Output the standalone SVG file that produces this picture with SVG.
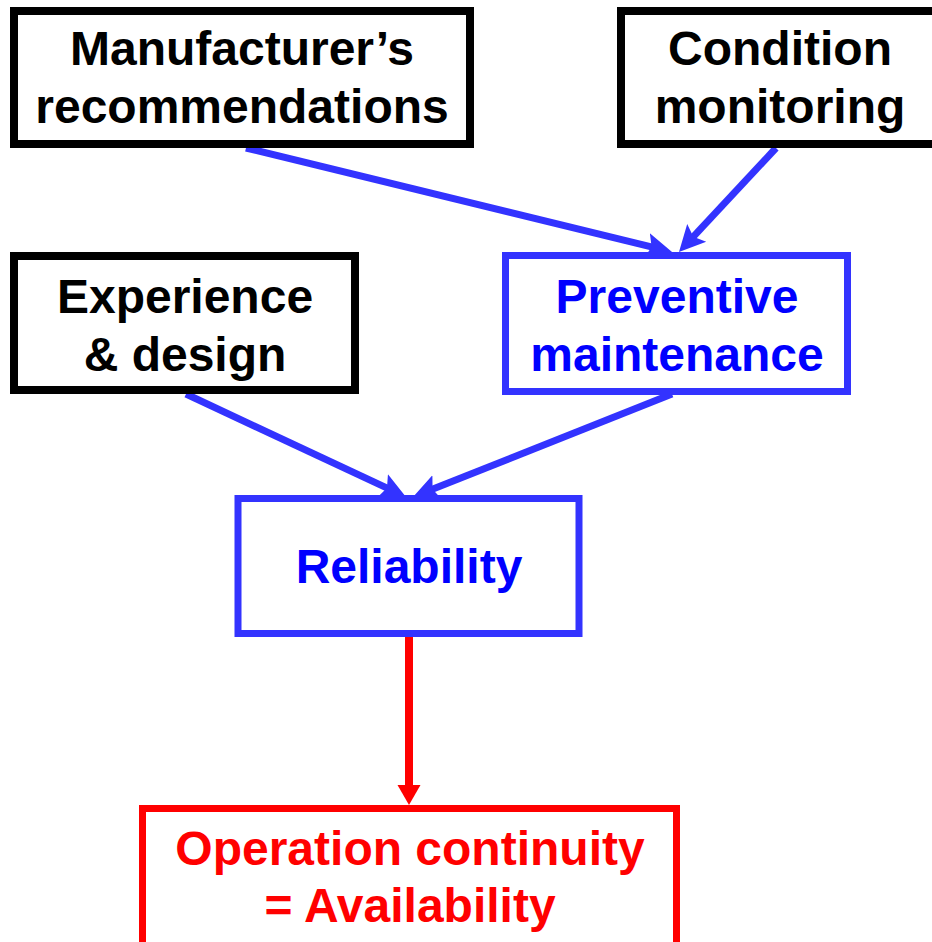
<svg xmlns="http://www.w3.org/2000/svg" width="932" height="942" viewBox="0 0 932 942">
<style>
.box{fill:#ffffff;stroke-width:8}
.k{stroke:#000000}
.b{stroke:#3333ff;stroke-width:7}
.r{stroke:#ff0000;stroke-width:7}
text{font-family:"Liberation Sans",Arial,sans-serif;font-weight:bold;font-size:48px;text-anchor:middle}
.tk{fill:#000000}
.tb{fill:#0000ff}
.tr{fill:#ff0000}
.cb{stroke:#3333ff;stroke-width:7;fill:none}
.cr{stroke:#ff0000;stroke-width:8;fill:none}
</style>
<defs>
<marker id="ab" markerUnits="userSpaceOnUse" markerWidth="28" markerHeight="28" refX="10" refY="13" orient="auto" viewBox="0 0 28 26">
<path d="M0,0 L26,13 L0,26 L5,13 Z" fill="#3333ff"/>
</marker>
<marker id="ar" markerUnits="userSpaceOnUse" markerWidth="22" markerHeight="24" refX="4" refY="11.5" orient="auto" viewBox="0 0 22 23">
<path d="M0,0 L20,11.5 L0,23 Z" fill="#ff0000"/>
</marker>
</defs>
<rect width="932" height="942" fill="#ffffff"/>
<g id="connectors">
<line class="cb" x1="246" y1="148" x2="656.5" y2="248.2" marker-end="url(#ab)"/>
<line class="cb" x1="776" y1="148" x2="689.9" y2="240.3" marker-end="url(#ab)"/>
<line class="cb" x1="186" y1="394" x2="391.5" y2="490.2" marker-end="url(#ab)"/>
<line class="cb" x1="672" y1="394" x2="427.9" y2="491.1" marker-end="url(#ab)"/>
<line class="cr" x1="409" y1="637" x2="409" y2="789" marker-end="url(#ar)"/>
</g>
<g id="manufacturer">
<rect class="box k" x="14" y="11" width="456" height="133"/>
<text class="tk" x="242" y="65">Manufacturer’s</text>
<text class="tk" x="242" y="123">recommendations</text>
</g>
<g id="condition">
<rect class="box k" x="621" y="11" width="330" height="133"/>
<text class="tk" x="780" y="65">Condition</text>
<text class="tk" x="780" y="123">monitoring</text>
</g>
<g id="experience">
<rect class="box k" x="14" y="256" width="341" height="134"/>
<text class="tk" x="185" y="313">Experience</text>
<text class="tk" x="185" y="371">&amp; design</text>
</g>
<g id="preventive">
<rect class="box b" x="505.5" y="255.5" width="342" height="136"/>
<text class="tb" x="677" y="313">Preventive</text>
<text class="tb" x="677" y="371">maintenance</text>
</g>
<g id="reliability">
<rect class="box b" x="238" y="498.5" width="341" height="135"/>
<text class="tb" x="409" y="583">Reliability</text>
</g>
<g id="operation">
<rect class="box r" x="142.5" y="808.5" width="534" height="142"/>
<text class="tr" x="410" y="865">Operation continuity</text>
<text class="tr" x="410" y="922">= Availability</text>
</g>
</svg>
